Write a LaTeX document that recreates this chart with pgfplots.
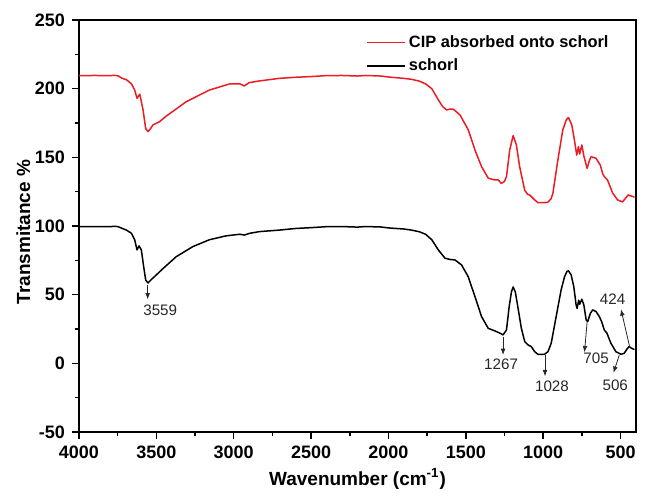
\documentclass[border=0pt]{standalone}
\usepackage{pgfplots}
\pgfplotsset{compat=1.18}
\usepackage{fontspec}
\setmainfont{Liberation Sans}
\usetikzlibrary{arrows.meta}
\definecolor{cipred}{RGB}{235,28,36}
\definecolor{annot}{RGB}{40,40,40}
\begin{document}
\begin{tikzpicture}
\begin{axis}[
  name=ax,
  scale only axis,
  width=278.5pt, height=206pt,
  x dir=reverse,
  xmin=400, xmax=4000,
  ymin=-50, ymax=250,
  xtick={500,1000,...,4000},
  ytick={-50,0,...,250},
  minor tick num=1,
  tick align=outside,
  tick pos=left,
  major tick length=3.5pt,
  minor tick length=2pt,
  axis line style={line width=0.75pt},
  every tick/.style={line width=0.75pt, black},
  /pgf/number format/assume math mode=true,
  /pgf/number format/1000 sep={},
  tick label style={font=\bfseries\fontsize{9}{10}\selectfont},
  xlabel={Wavenumber (cm\textsuperscript{-1})},
  ylabel={Transmitance \%},
  label style={font=\bfseries\fontsize{9.5}{11}\selectfont},
  xlabel style={at={(axis description cs:0.5,-0.129)}, anchor=base},
  ylabel style={at={(axis description cs:-0.1,0.485)}, anchor=center},
  legend style={draw=none, fill=none, at={(axis description cs:0.515,0.972)}, anchor=north west,
    font=\bfseries\fontsize{8.2}{9.5}\selectfont, inner sep=0pt, row sep=1pt,
    nodes={inner sep=1.6pt}},
  legend cell align=left,
  legend image code/.code={\draw[#1, line width=0.75pt] (0pt,0pt) -- (19pt,0pt);},
  clip=false,
]
\addplot[cipred, line width=0.75pt, line join=round] coordinates {
(4000,209.5) (3900,209.6) (3800,209.5) (3770,209.7) (3747,209.3) (3720,207.5) (3693,206.5)
(3661,203.5) (3640,199) (3625,193) (3607,196) (3586,184.5) (3569,171) (3554,168.7) (3540,170.5)
(3522,173.6) (3479,176) (3436,180) (3307,190.5) (3157,199) (3028,203.4) (2960,203.5) (2932,202)
(2900,204.4) (2835,205.6) (2707,207.5) (2600,208.3) (2500,208.8) (2400,209.5) (2300,209.6)
(2200,209.2) (2150,209.6) (2050,209.2) (2000,208.5) (1900,207.5) (1850,206.8) (1800,205.5)
(1760,203.5) (1720,200) (1677,191.8) (1650,187) (1624,184.5) (1600,185.2) (1580,185) (1537,180.8)
(1484,170) (1441,155.4) (1398,143.2) (1355,134.8) (1312,133.5) (1290,133.5) (1270,131) (1250,132.5)
(1237,136) (1216,155.4) (1194,165.8) (1173,159) (1152,143.2) (1119,126) (1100,123) (1087,122.6)
(1055,119) (1034,117) (991,117) (969,117.3) (948,120) (937,123.8) (905,148) (873,170) (850,177.5)
(836,179) (815,173.6) (798,162.6) (783,151.6) (772,157.8) (764,152.4) (750,159) (737,151)
(716,142) (700,148) (690,150.5) (658,149.3) (631,144.4) (615,138) (605,136) (584,133.5)
(551,124) (519,119) (487,117.5) (465,120.6) (450,122.6) (429,121.8) (410,121)
};
\addlegendentry{CIP absorbed onto schorl}
\addplot[black, line width=0.75pt, line join=round] coordinates {
(4000,99.5) (3900,99.6) (3800,99.5) (3770,99.8) (3747,99.5) (3720,98.2) (3693,97) (3661,94.7)
(3640,90) (3625,82.6) (3612,85.5) (3597,82.6) (3582,70.4) (3569,60.7) (3554,58.5) (3533,61)
(3500,64.4) (3457,69) (3371,77.7) (3264,85) (3157,90) (3050,92.8) (2960,94) (2932,93.4)
(2900,94.6) (2835,95.9) (2707,97) (2600,98.2) (2500,98.8) (2400,99.5) (2300,99.6) (2200,99.2)
(2150,99.6) (2050,99.3) (2000,98.6) (1900,97.8) (1850,97) (1800,95.8) (1760,94) (1720,90)
(1677,82.5) (1634,76.5) (1600,75.6) (1570,75.3) (1527,71.6) (1484,63) (1441,48.6) (1398,34)
(1355,25.5) (1312,23.6) (1280,22) (1259,20.7) (1237,24.3) (1220,41) (1205,52) (1194,55.6)
(1180,52) (1162,40) (1141,25.6) (1119,15.8) (1098,13.4) (1077,12.2) (1055,8.5) (1034,6.6)
(991,6.6) (969,8.5) (948,14.6) (916,34) (884,53.4) (862,63) (846,67) (836,67.3) (819,64.4)
(802,55.8) (787,42.5) (781,40) (770,46) (764,43) (750,46.7) (737,42.5) (722,31.6) (712,30.4)
(695,36.4) (680,38.9) (658,37.7) (637,34) (622,30.4) (605,24.3) (588,22) (562,14.6) (530,8.5)
(497,6.6) (476,7.3) (459,10.3) (444,12.2) (429,11) (410,10)
};
\addlegendentry{schorl}
% peak annotations
\begin{scope}[annot, line width=0.4pt, -{Latex[length=3.2pt,width=2.4pt]}]
\draw (axis cs:3556,57) -- (axis cs:3556,46.5);
\draw (axis cs:1259,19.5) -- (axis cs:1259,6);
\draw (axis cs:988,6) -- (axis cs:988,-9.5);
\draw (axis cs:716,30) -- (axis cs:733,8);
\draw (axis cs:508,6) -- (axis cs:546,-7);
\draw (axis cs:440,11.5) -- (axis cs:497,39.4);
\end{scope}
\begin{scope}[every node/.style={annot, font=\fontsize{7.6}{8.5}\selectfont, inner sep=0pt}]
\node at (axis cs:3475,38.5) {3559};
\node at (axis cs:1272,-1) {1267};
\node at (axis cs:943,-17) {1028};
\node at (axis cs:658,4) {705};
\node at (axis cs:534,-15.7) {506};
\node at (axis cs:551,46.7) {424};
\end{scope}
\end{axis}
\path (ax.south west) ++(-39.5pt,-30pt) coordinate (bl);
\path (ax.north east) ++(6pt,10pt) coordinate (tr);
\path (bl) rectangle (tr);
\end{tikzpicture}
\end{document}
